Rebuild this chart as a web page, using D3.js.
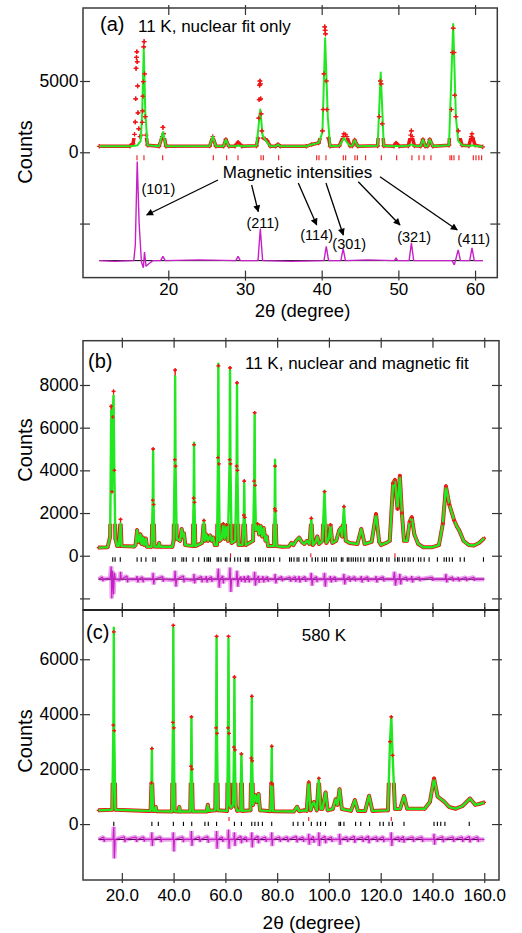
<!DOCTYPE html>
<html><head><meta charset="utf-8">
<script src="https://cdn.jsdelivr.net/npm/d3@7"></script>
<style>body{margin:0;background:#fff}svg{display:block}</style>
</head><body>
<script>
// ---------------- DATA ----------------
// Panel (a): 11 K, nuclear fit only
const obsA = [[11,420],[15.0,430],[15.4,600],[15.6,1260],[15.7,2120],[15.75,3750],[15.8,5880],[15.85,6650],[15.9,7050],[15.95,6350],[16.0,4650],[16.05,2770],[16.15,1650],[16.3,1100],[16.5,1200],[16.6,2100],[16.65,2900],[16.7,3930],[16.75,4950],[16.8,7400],[16.85,7760],[16.9,5500],[17.0,2500],[17.1,1200],[17.3,500],[18.8,430],[19.2,1100],[19.3,1750],[19.4,1300],[19.7,430],[25.4,440],[25.8,1100],[26.2,430],[27.2,430],[27.5,900],[27.9,430],[28.7,430],[29.1,700],[29.6,430],[31.5,450],[31.7,1000],[31.8,2400],[31.85,3700],[31.9,4700],[31.95,5000],[32.0,4800],[32.05,3750],[32.1,2700],[32.2,1500],[32.4,1000],[32.6,950],[32.9,800],[33.3,430],[34.0,420],[34.3,550],[34.6,420],[38.0,420],[38.7,550],[39.6,650],[40.1,1500],[40.2,3000],[40.3,5500],[40.4,8800],[40.45,8550],[40.5,8300],[40.6,5000],[40.7,3000],[40.9,1000],[41.1,430],[42.3,450],[42.8,1100],[42.9,1300],[43.1,1250],[43.3,1100],[43.7,450],[44.0,450],[44.3,850],[44.7,430],[47.3,450],[47.5,2500],[47.65,5000],[47.75,4800],[47.9,2000],[48.1,450],[49.4,430],[49.7,650],[50.1,430],[51.3,450],[51.6,1200],[51.7,1500],[51.8,1100],[52.1,450],[52.9,430],[53.2,900],[53.5,430],[53.8,430],[54.1,900],[54.5,430],[56.6,500],[56.9,3000],[57.05,7000],[57.15,8700],[57.25,7000],[57.35,4000],[57.5,2500],[57.8,1500],[58.3,500],[59.2,450],[59.5,1100],[59.6,1300],[59.7,1000],[60.0,500],[61.0,380]];
const calcA = [[11,420],[15.0,430],[15.6,450],[16.0,500],[16.4,800],[16.6,2800],[16.8,7300],[17.0,2800],[17.3,500],[18.8,430],[19.3,1400],[19.7,430],[25.4,440],[25.8,1100],[26.2,430],[27.2,430],[27.5,900],[27.9,430],[28.7,430],[29.1,480],[29.6,430],[31.5,450],[32.0,3000],[32.3,1200],[32.6,900],[32.9,700],[33.3,430],[34.0,420],[34.3,550],[34.6,420],[38.0,420],[38.7,550],[39.6,650],[40.1,1400],[40.45,8000],[40.8,2500],[41.1,430],[42.3,450],[42.9,1000],[43.3,700],[43.7,450],[44.0,450],[44.3,850],[44.7,430],[47.3,450],[47.7,5600],[48.1,450],[49.4,430],[49.7,450],[50.1,430],[51.3,450],[51.7,550],[52.1,450],[52.9,430],[53.2,900],[53.5,430],[53.8,430],[54.1,900],[54.5,430],[56.6,500],[57.15,9000],[57.5,2500],[57.8,800],[58.3,500],[59.2,450],[59.6,500],[60.0,450],[61.0,380]];
const diffA = [[11,-7600],[13,-7650],[15.5,-7600],[15.7,-6500],[15.95,-650],[16.2,-5000],[16.5,-7700],[16.75,-8100],[16.9,-7000],[17.1,-8000],[17.5,-7800],[18,-7600],[19.0,-7600],[19.3,-7300],[19.6,-7600],[24,-7550],[28.8,-7600],[29.1,-7300],[29.4,-7600],[31.7,-7600],[32.0,-5350],[32.3,-7600],[36,-7650],[40.3,-7600],[40.6,-6600],[40.9,-7600],[42.5,-7600],[42.8,-6750],[43.1,-7600],[46,-7550],[49.5,-7600],[49.7,-7400],[49.9,-7600],[51.4,-7600],[51.7,-6350],[52.0,-7600],[57.0,-7600],[57.3,-7900],[57.8,-6850],[58.1,-7600],[59.3,-7600],[59.6,-6700],[59.9,-7600],[61.0,-7600]];
const braggA = [15.92,16.83,19.27,25.87,27.61,29.09,32.09,32.39,34.39,39.35,39.65,40.56,42.82,43.13,44.34,44.65,45.73,47.78,49.78,51.77,52.69,53.34,54.25,56.73,56.95,57.25,57.9,59.77,60.12,60.5,60.86];
const diffBaseA = -7600;
const magLabels = [["(101)",18.7,-2595],["(211)",32.32,-4937],["(114)",39.35,-5800],["(301)",43.6,-6431],["(321)",52.06,-5961],["(411)",59.83,-6101]];
const magArrows = [[26.48,-1943,17.18,-4397],[30.87,-2293,31.73,-4166],[36.95,-2153,39.35,-5098],[40.56,-2153,42.82,-5800],[44.77,-2062,50.21,-5098],[47.6,-1711,57.68,-5449]];

// Panel (b): 11 K, nuclear and magnetic fit
const obsB = [[11,380],[14.5,400],[15.5,900],[15.9,7000],[16.2,3000],[16.5,6500],[16.8,7700],[17.1,4000],[17.5,800],[18.2,450],[18.8,450],[19.5,1700],[19.9,450],[24.8,430],[25.3,500],[25.9,1200],[26.4,650],[27.2,1000],[27.6,550],[28.2,850],[28.6,500],[29.3,800],[29.7,420],[31.5,420],[31.95,2600],[32.1,5000],[32.25,2400],[32.6,430],[34.0,420],[34.4,600],[34.8,420],[39.5,420],[40.0,700],[40.45,4500],[40.6,8700],[40.75,4200],[41.2,800],[42.5,700],[43.1,1250],[43.6,900],[44.0,1050],[44.5,500],[47.4,450],[47.75,2700],[47.9,5200],[48.05,2500],[48.4,450],[51.0,600],[51.7,1650],[52.1,700],[52.6,1000],[53.3,700],[54.1,950],[54.7,700],[55.3,850],[55.9,500],[56.8,500],[57.15,4600],[57.3,8900],[57.45,4300],[57.8,700],[58.6,800],[59.2,1500],[59.7,800],[60.5,1450],[61.0,700],[61.65,4500],[61.8,8800],[61.95,4300],[62.4,600],[63.8,700],[64.35,4200],[64.5,8100],[64.65,4000],[65.1,500],[66.6,500],[67.15,1900],[67.3,3500],[67.45,1800],[67.9,500],[70.7,700],[71.15,3500],[71.3,6700],[71.45,3300],[71.8,1200],[72.4,1500],[73.0,1000],[73.6,1400],[74.2,900],[74.8,1300],[75.5,700],[76.0,900],[76.5,450],[78.7,450],[79.05,2200],[79.2,4200],[79.35,2100],[79.7,450],[82,420],[84.5,430],[85.5,600],[86.3,500],[87.3,700],[88.5,850],[89.5,650],[90.5,550],[91.5,700],[92.5,550],[93.2,1750],[93.8,500],[94.8,650],[95.5,900],[96.2,550],[97.5,700],[98.3,3000],[99.0,600],[100.0,800],[100.6,1450],[101.3,600],[102.8,700],[104.0,1200],[104.6,1300],[105.1,900],[105.8,2300],[106.5,700],[108,600],[111.0,550],[112.5,1250],[113.8,550],[116.5,650],[118.2,1950],[119.4,650],[120.2,500],[121,550],[122.2,600],[123.5,700],[124.8,3400],[125.5,3550],[126.5,2200],[127.4,3750],[128.2,2000],[129.0,700],[130.2,700],[131.2,1600],[132.0,1800],[133.0,1000],[134.5,550],[136.5,400],[140,400],[142.5,500],[144.0,1500],[145.2,3250],[146.5,2400],[148.4,1650],[149.5,1350],[150.3,1200],[152.0,700],[154.0,500],[156.0,480],[158.0,600],[160,820]];
const calcPeaksB = [[15.9,6800],[16.8,7500],[19.5,1500],[32.1,4900],[40.6,8400],[47.9,5300],[57.3,9000],[61.8,8700],[64.5,8000],[67.3,3400],[71.3,6600],[79.2,4500],[98.3,3050]];
const diffB = [[11,-1100],[12.5,-1000],[12.7,-1200],[12.9,-1100],[15.5,-1050],[15.9,-500],[16.1,-2000],[16.4,-700],[16.8,-1800],[17.1,-800],[17.5,-1100],[19.3,-1150],[19.5,-750],[19.8,-1100],[22.0,-950],[22.2,-1250],[22.4,-1100],[25.6,-1100],[25.9,-950],[26.2,-1250],[26.5,-1100],[28.0,-1000],[28.2,-1250],[28.4,-1100],[31.9,-1100],[32.1,-800],[32.3,-1350],[32.6,-1100],[35.8,-980],[36.0,-1220],[36.2,-1100],[40.3,-1150],[40.6,-700],[40.9,-1450],[41.2,-1100],[43.8,-950],[44.0,-1250],[44.2,-1100],[47.7,-1150],[47.9,-850],[48.1,-1300],[48.4,-1100],[50.8,-980],[51.0,-1250],[51.2,-1100],[52.3,-1100],[52.6,-950],[52.9,-1250],[53.2,-1100],[54.6,-980],[54.8,-1230],[55.0,-1100],[56.9,-1100],[57.3,-600],[57.6,-1500],[57.9,-1100],[59.0,-950],[59.2,-1300],[59.4,-1100],[61.5,-1100],[61.8,-550],[62.1,-1700],[62.4,-1100],[64.2,-1100],[64.5,-700],[64.8,-1450],[65.1,-1100],[66.0,-980],[66.2,-1220],[66.4,-1100],[67.0,-1100],[67.3,-950],[67.6,-1250],[67.9,-1100],[69.0,-950],[69.2,-1250],[69.4,-1100],[71.0,-1100],[71.3,-750],[71.6,-1400],[71.9,-1100],[72.8,-950],[73.0,-1280],[73.2,-1100],[74.2,-1100],[74.5,-950],[74.8,-1250],[75.1,-1100],[76.3,-980],[76.5,-1220],[76.7,-1100],[79.0,-1100],[79.2,-850],[79.5,-1300],[79.8,-1100],[81.8,-980],[82.0,-1200],[82.2,-1100],[85.0,-1000],[85.2,-1220],[85.4,-1100],[87.0,-980],[87.2,-1230],[87.4,-1100],[88.2,-1100],[88.5,-950],[88.8,-1250],[89.1,-1100],[90.8,-980],[91.0,-1220],[91.2,-1100],[92.9,-1100],[93.2,-800],[93.5,-1400],[93.8,-1100],[95.2,-980],[95.4,-1240],[95.6,-1100],[98.0,-1100],[98.3,-800],[98.6,-1450],[98.9,-1100],[100.3,-1100],[100.6,-950],[100.9,-1250],[101.2,-1100],[102.4,-980],[102.6,-1220],[102.8,-1100],[105.5,-1100],[105.8,-850],[106.1,-1350],[106.4,-1100],[108.0,-980],[108.2,-1220],[108.4,-1100],[110.0,-980],[110.2,-1200],[110.4,-1100],[112.2,-1100],[112.5,-950],[112.8,-1250],[113.1,-1100],[115.0,-990],[115.2,-1220],[115.4,-1100],[117.9,-1100],[118.2,-950],[118.5,-1250],[118.8,-1100],[121.0,-990],[121.2,-1210],[121.4,-1100],[124.9,-1100],[125.3,-750],[125.7,-1400],[126.1,-1100],[127.1,-1100],[127.4,-850],[127.7,-1350],[128.0,-1100],[130.0,-1000],[130.2,-1200],[130.4,-1100],[131.7,-1100],[132.0,-950],[132.3,-1250],[132.6,-1100],[135.0,-1010],[135.2,-1190],[135.4,-1100],[140.0,-1010],[140.2,-1180],[140.4,-1100],[144.9,-1100],[145.2,-850],[145.5,-1250],[145.8,-1100],[147.8,-1000],[148.0,-1200],[148.2,-1100],[149.7,-1100],[150.0,-1000],[150.3,-1200],[150.6,-1100],[153.0,-1010],[153.2,-1190],[153.4,-1100],[156.0,-1010],[156.2,-1180],[156.4,-1100],[160,-1100]];
const diffBaseB = -1100;
const braggB = [16.5,17.4,19.4,25.9,27.5,29.3,32.0,32.9,39.7,40.6,43.2,43.9,44.9,47.5,49.7,51.9,52.9,53.5,54.2,56.8,57.4,58.3,60.0,60.6,61.9,63.6,64.8,65.8,67.7,68.4,69.0,71.6,72.9,73.5,74.5,75.5,76.8,77.4,78.7,81.0,84.8,85.5,86.5,87.7,88.4,90.3,91.4,93.5,94.8,95.7,97.4,98.3,99.1,101.0,101.9,102.8,104.8,105.4,107.1,107.7,108.6,109.4,110.3,111.2,112.3,113.5,115.5,116.1,117.2,118.7,120.0,120.6,122.3,123.2,125.5,126.5,127.1,128.4,129.3,130.6,131.4,132.6,134.6,135.5,136.8,138.7,141.9,144.5,145.4,146.5,147.7,150.7,152.3,159.7];
const braggB2 = [62.0,93.0,125.5];

// Panel (c): 580 K
const obsC = [[11,500],[16.3,520],[16.75,3600],[16.9,7000],[17.05,3400],[17.5,520],[30,480],[31.1,480],[31.45,1500],[31.6,2750],[31.75,1400],[32.1,480],[32.8,480],[33.1,620],[33.4,470],[39.4,460],[39.75,3700],[39.9,7230],[40.05,3500],[40.4,470],[41.9,460],[42.2,620],[42.5,460],[46.4,460],[46.75,2100],[46.9,3900],[47.05,2000],[47.4,460],[52.8,460],[53.2,700],[53.6,480],[56.1,500],[56.45,3500],[56.6,6830],[56.75,3300],[57.1,500],[60.7,480],[61.05,3500],[61.2,6830],[61.35,3300],[61.6,700],[62.2,600],[63.0,700],[63.35,2800],[63.5,5350],[63.65,2700],[64.0,650],[64.6,480],[65.8,500],[66.2,2550],[66.6,480],[69.7,500],[70.05,2400],[70.2,4650],[70.35,2300],[70.7,700],[71.5,1050],[72.1,800],[72.8,1100],[73.4,500],[77.4,470],[77.75,1500],[77.9,2830],[78.05,1450],[78.4,470],[86.5,460],[87.7,630],[88.5,470],[90.5,500],[91.4,480],[92.2,1530],[92.9,500],[93.6,700],[94.2,800],[95.3,500],[96.1,1660],[96.8,550],[97.5,550],[98.7,1150],[99.5,500],[101.5,550],[102.6,900],[103.3,700],[104.1,1270],[105.0,550],[108.5,480],[110.0,870],[111.2,480],[114.0,480],[115.5,1030],[116.8,480],[122.8,500],[123.6,3000],[124.1,3900],[124.6,2500],[125.5,550],[127.5,550],[129.0,1020],[130.2,560],[137,560],[139.0,800],[140.6,1660],[142.0,1000],[144.5,820],[146.5,620],[149.0,560],[151.5,650],[154.5,930],[156.5,700],[158.0,730],[160,790]];
const calcPeaksC = [[16.9,7150],[39.9,7150],[46.9,3850],[56.6,6800],[61.2,6750],[63.5,5300]];
const diffC = [[11,-560],[13.0,-470],[13.2,-650],[13.4,-560],[16.6,-560],[16.9,-100],[17.1,-1250],[17.4,-560],[21.0,-460],[21.2,-660],[21.4,-560],[25.5,-470],[25.7,-650],[25.9,-560],[28.5,-470],[28.7,-640],[28.9,-560],[31.4,-560],[31.6,-300],[31.8,-800],[32.0,-560],[35.0,-470],[35.2,-660],[35.4,-560],[39.7,-560],[39.9,-300],[40.1,-1000],[40.3,-560],[43.6,-470],[43.8,-660],[44.0,-560],[46.7,-560],[46.9,-250],[47.1,-800],[47.3,-560],[50.0,-470],[50.2,-650],[50.4,-560],[53.2,-450],[53.4,-680],[53.6,-560],[56.4,-560],[56.6,-250],[56.8,-900],[57.0,-560],[58.8,-470],[59.0,-650],[59.2,-560],[61.0,-560],[61.2,-200],[61.4,-900],[61.6,-560],[63.3,-560],[63.5,-300],[63.7,-800],[63.9,-560],[66.0,-440],[66.2,-700],[66.4,-560],[68.0,-470],[68.2,-650],[68.4,-560],[70.0,-560],[70.2,-300],[70.4,-850],[70.6,-560],[72.6,-440],[72.8,-700],[73.0,-560],[75.5,-470],[75.7,-650],[75.9,-560],[77.7,-560],[77.9,-300],[78.1,-800],[78.3,-560],[81.0,-470],[81.2,-650],[81.4,-560],[84.0,-470],[84.2,-650],[84.4,-560],[87.5,-450],[87.7,-670],[87.9,-560],[90.0,-470],[90.2,-650],[90.4,-560],[92.0,-560],[92.2,-350],[92.4,-750],[92.6,-560],[94.0,-450],[94.2,-680],[94.4,-560],[95.9,-560],[96.1,-300],[96.3,-800],[96.5,-560],[98.5,-440],[98.7,-700],[98.9,-560],[101.0,-470],[101.2,-650],[101.4,-560],[103.9,-560],[104.1,-350],[104.3,-750],[104.5,-560],[107.0,-470],[107.2,-650],[107.4,-560],[109.8,-440],[110.0,-690],[110.2,-560],[113.0,-470],[113.2,-650],[113.4,-560],[115.3,-440],[115.5,-700],[115.7,-560],[118.5,-470],[118.7,-650],[118.9,-560],[121.0,-460],[121.2,-660],[121.4,-560],[123.9,-560],[124.1,-300],[124.3,-800],[124.5,-560],[127.0,-470],[127.2,-650],[127.4,-560],[128.8,-450],[129.0,-680],[129.2,-560],[132.5,-470],[132.7,-650],[132.9,-560],[136.0,-470],[136.2,-650],[136.4,-560],[140.4,-560],[140.6,-350],[140.8,-750],[141.0,-560],[144.0,-460],[144.2,-660],[144.4,-560],[148.0,-470],[148.2,-650],[148.4,-560],[151.5,-470],[151.7,-650],[151.9,-560],[154.3,-450],[154.5,-670],[154.7,-560],[157.5,-470],[157.7,-650],[157.9,-560],[160,-560]];
const diffBaseC = -560;
const braggC = [16.9,31.6,34.1,39.9,43.8,47.0,52.1,53.4,56.6,63.5,66.2,70.2,71.4,72.7,74.3,77.9,86.2,88.0,90.1,93.2,95.5,96.8,98.7,103.9,104.5,105.8,110.3,112.3,115.7,119.7,121.0,123.2,124.5,129.0,140.6,141.9,143.2,144.8,154.2];
const braggC2 = [61.4,92.2,124.1];

// Axis ticks
const xTicksA = [20,30,40,50,60];
const yTicksA = [-5000,0,5000];
const yLabelsA = [0,5000];
const xTicksBC = [20,40,60,80,100,120,140,160];
const yTicksB = [-2000,0,2000,4000,6000,8000];
const yLabelsB = [0,2000,4000,6000,8000];
const yTicksC = [0,2000,4000,6000];

// ---------------- DRAW ----------------
const FONT = "'Liberation Sans', Arial, Helvetica, sans-serif";
const RED = "#f01414", GREEN = "#22e822", MAG = "#c81ec8";
const svg = d3.select("body").append("svg").attr("width",522).attr("height",933)
  .style("font-family",FONT);
const defs = svg.append("defs");
defs.append("marker").attr("id","arr").attr("viewBox","0 0 10 10").attr("refX",9).attr("refY",5)
  .attr("markerWidth",9).attr("markerHeight",7).attr("markerUnits","userSpaceOnUse").attr("orient","auto")
  .append("path").attr("d","M0,0L10,5L0,10z").attr("fill","#000");

function mergeCalc(obs, peaks){
  const m = new Map(peaks.map(p=>[p[0],p[1]]));
  return obs.map(([x,v]) => [x, m.has(x) ? m.get(x) : v]);
}

function panel(cfg){
  const x = d3.scaleLinear().domain(cfg.xd).range([cfg.l,cfg.r]);
  const y = d3.scaleLinear().domain(cfg.yd).range([cfg.b,cfg.t]);
  const g = svg.append("g");
  const id = "clip"+cfg.name;
  defs.append("clipPath").attr("id",id).append("rect")
    .attr("x",cfg.l).attr("y",cfg.t).attr("width",cfg.r-cfg.l).attr("height",cfg.b-cfg.t);
  // region where the dense observed points form a thick band
  const idb = "band"+cfg.name;
  const cpb = defs.append("clipPath").attr("id",idb);
  const xs = x(cfg.bandSplit);
  cpb.append("rect").attr("x",cfg.l).attr("y",y(cfg.bandMax)).attr("width",xs-cfg.l).attr("height",cfg.b-y(cfg.bandMax));
  if (xs < cfg.r) cpb.append("rect").attr("x",xs).attr("y",cfg.t).attr("width",cfg.r-xs).attr("height",cfg.b-cfg.t);
  const pg = g.append("g").attr("clip-path",`url(#${id})`);
  const line = d3.line().x(d=>x(d[0])).y(d=>y(d[1]));

  // difference baseline + difference curve
  pg.append("line").attr("x1",x(11)).attr("x2",x(cfg.xEnd)).attr("y1",y(cfg.diffBase)).attr("y2",y(cfg.diffBase))
    .attr("stroke","#000").attr("stroke-width",1);
  if (cfg.band) pg.append("path").attr("d",line(cfg.diff)).attr("fill","none").attr("stroke",MAG)
    .attr("stroke-width",cfg.band).attr("stroke-opacity",0.4).attr("stroke-linejoin","bevel");
  pg.append("path").attr("d",line(cfg.diff)).attr("fill","none").attr("stroke",MAG)
    .attr("stroke-width",cfg.diffW).attr("stroke-linejoin","bevel");

  // observed: thick band in the background region, thin line + crosses elsewhere
  pg.append("g").attr("clip-path",`url(#${idb})`).append("path").attr("d",line(cfg.obs)).attr("fill","none")
    .attr("stroke",RED).attr("stroke-width",cfg.obsW).attr("stroke-linejoin","round");
  if (cfg.thinW) pg.append("path").attr("d",line(cfg.obs)).attr("fill","none").attr("stroke",RED)
    .attr("stroke-width",cfg.thinW);
  pg.selectAll(".mk").data(cfg.obs).join("path").attr("class","mk")
    .attr("transform",d=>`translate(${x(d[0])},${y(d[1])})`)
    .attr("d",`M-${cfg.mk},0H${cfg.mk}M0,-${cfg.mk}V${cfg.mk}`)
    .attr("stroke",RED).attr("stroke-width",1.3);
  // calculated
  pg.append("path").attr("d",line(cfg.calc)).attr("fill","none").attr("stroke",GREEN)
    .attr("stroke-width",cfg.calcW).attr("stroke-linejoin","round");
  // crosses that sit on the peaks, drawn over the fit
  pg.selectAll(".mk2").data(cfg.obs.filter(d=>d[1]>1400)).join("path").attr("class","mk2")
    .attr("transform",d=>`translate(${x(d[0])},${y(d[1])})`)
    .attr("d",`M-${cfg.mk},0H${cfg.mk}M0,-${cfg.mk}V${cfg.mk}`)
    .attr("stroke",RED).attr("stroke-width",1.2);

  // bragg ticks
  const y0 = y(0);
  cfg.bragg.forEach(b=>{
    pg.selectAll(null).data(b.pos).join("line")
      .attr("x1",d=>x(d)).attr("x2",d=>x(d))
      .attr("y1",y0+b.o1).attr("y2",y0+b.o2)
      .attr("stroke",b.c).attr("stroke-width",1.1);
  });

  // axes
  const fs = "17px";
  const yl = d3.axisLeft(y).tickValues(cfg.yt).tickSizeInner(3).tickSizeOuter(0).tickPadding(1.5)
    .tickFormat(d=>cfg.yl.includes(d)?String(d):"");
  const gyl = g.append("g").attr("transform",`translate(${cfg.l},0)`).call(yl);
  gyl.select(".domain").remove();
  gyl.selectAll(".tick line").attr("x1",7).attr("stroke","#333").attr("stroke-width",1.2);
  gyl.selectAll("text").attr("font-size","17.5px").attr("font-family",FONT).attr("fill","#000");
  const yr = d3.axisRight(y).tickValues(cfg.yt).tickSizeInner(3).tickSizeOuter(0).tickFormat("");
  const gyr = g.append("g").attr("transform",`translate(${cfg.r},0)`).call(yr);
  gyr.select(".domain").remove();
  gyr.selectAll(".tick line").attr("x1",-7).attr("stroke","#333").attr("stroke-width",1.2);

  const xb = d3.axisBottom(x).tickValues(cfg.xt).tickSizeInner(3).tickSizeOuter(0).tickPadding(cfg.xpad)
    .tickFormat(cfg.xfmt || "");
  const gxb = g.append("g").attr("transform",`translate(0,${cfg.b})`).call(xb);
  gxb.select(".domain").remove();
  gxb.selectAll(".tick line").attr("y1",-7).attr("stroke","#333").attr("stroke-width",1.2);
  gxb.selectAll("text").attr("font-size",fs).attr("font-family",FONT).attr("fill","#000");
  const xt = d3.axisTop(x).tickValues(cfg.xt).tickSizeInner(3).tickSizeOuter(0).tickFormat("");
  const gxt = g.append("g").attr("transform",`translate(0,${cfg.t})`).call(xt);
  gxt.select(".domain").remove();
  gxt.selectAll(".tick line").attr("y1",7).attr("stroke","#333").attr("stroke-width",1.2);

  // frame
  g.append("rect").attr("x",cfg.l).attr("y",cfg.t).attr("width",cfg.r-cfg.l).attr("height",cfg.b-cfg.t)
    .attr("fill","none").attr("stroke","#3a3a3a").attr("stroke-width",1.5);

  // Counts label
  g.append("text").attr("transform",`translate(31.5,${cfg.countsY}) rotate(-90)`)
    .attr("text-anchor","middle").attr("font-size","20px").text("Counts");
  return {x,y,g};
}

// Panel (a)
const A = panel({name:"a", l:83, r:497.3, t:8, b:277.6, xd:[8.88,62.9], yd:[-8790,10120],
  obs:obsA, calc:calcA, diff:diffA, diffBase:diffBaseA, xEnd:61, obsW:3.5, thinW:0, bandMax:1000, bandSplit:62.9, calcW:2, diffW:1.4, band:0, mk:2.3,
  bragg:[{pos:braggA,c:RED,o1:3,o2:8}],
  yt:yTicksA, yl:yLabelsA, xt:xTicksA, xpad:2, xfmt:d=>String(d), countsY:152});

// annotations in (a)
A.g.selectAll(".arw").data(magArrows).join("line").attr("class","arw")
  .attr("x1",d=>A.x(d[0])).attr("y1",d=>A.y(d[1])).attr("x2",d=>A.x(d[2])).attr("y2",d=>A.y(d[3]))
  .attr("stroke","#000").attr("stroke-width",1.3).attr("marker-end","url(#arr)");
A.g.append("text").attr("x",A.x(36.85)).attr("y",A.y(-1360)).attr("dy","0.35em")
  .attr("text-anchor","middle").attr("font-size","17px").text("Magnetic intensities");
A.g.selectAll(".ml").data(magLabels).join("text").attr("class","ml")
  .attr("x",d=>A.x(d[1])).attr("y",d=>A.y(d[2])).attr("dy","0.35em")
  .attr("text-anchor","middle").attr("font-size","14.5px").text(d=>d[0]);
A.g.append("text").attr("x",100).attr("y",31).attr("font-size","20px").text("(a)");
A.g.append("text").attr("x",138).attr("y",31.5).attr("font-size","17px").text("11 K, nuclear fit only");
svg.append("text").attr("x",302.5).attr("y",317).attr("text-anchor","middle").attr("font-size","18.5px").text("2θ (degree)");

// Panel (b)
const B = panel({name:"b", l:83, r:499, t:340.7, b:610, xd:[5,165.7], yd:[-2543,10075],
  obs:obsB, calc:mergeCalc(obsB,calcPeaksB), diff:diffB, diffBase:diffBaseB, xEnd:160, obsW:4, thinW:1, bandMax:1500, bandSplit:109, calcW:2.4, diffW:1.2, band:4.5, mk:1.8,
  bragg:[{pos:braggB,c:"#000",o1:1.5,o2:6},{pos:braggB2,c:RED,o1:-2.5,o2:1.5}],
  yt:yTicksB, yl:yLabelsB, xt:xTicksBC, xpad:3, xfmt:null, countsY:450});
B.g.append("text").attr("x",88).attr("y",368).attr("font-size","20px").text("(b)");
B.g.append("text").attr("x",245).attr("y",369).attr("font-size","17px").text("11 K, nuclear and magnetic fit");

// Panel (c)
const C = panel({name:"c", l:83, r:499, t:610, b:880, xd:[5,165.7], yd:[-2036,7793],
  obs:obsC, calc:mergeCalc(obsC,calcPeaksC), diff:diffC, diffBase:diffBaseC, xEnd:160, obsW:4, thinW:1, bandMax:1500, bandSplit:126, calcW:2.4, diffW:1.2, band:4.5, mk:1.8,
  bragg:[{pos:braggC,c:"#000",o1:-2.3,o2:2},{pos:braggC2,c:RED,o1:-7,o2:-3}],
  yt:yTicksC, yl:yTicksC, xt:xTicksBC, xpad:5.7, xfmt:d3.format(".1f"), countsY:741});
C.g.append("text").attr("x",86).attr("y",639).attr("font-size","20px").text("(c)");
C.g.append("text").attr("x",301.7).attr("y",640.5).attr("font-size","17px").text("580 K");
svg.append("line").attr("x1",83).attr("x2",499).attr("y1",610).attr("y2",610).attr("stroke","#222").attr("stroke-width",2.2);
svg.append("text").attr("x",311.7).attr("y",929).attr("text-anchor","middle").attr("font-size","19px").text("2θ (degree)");
</script>
</body></html>
